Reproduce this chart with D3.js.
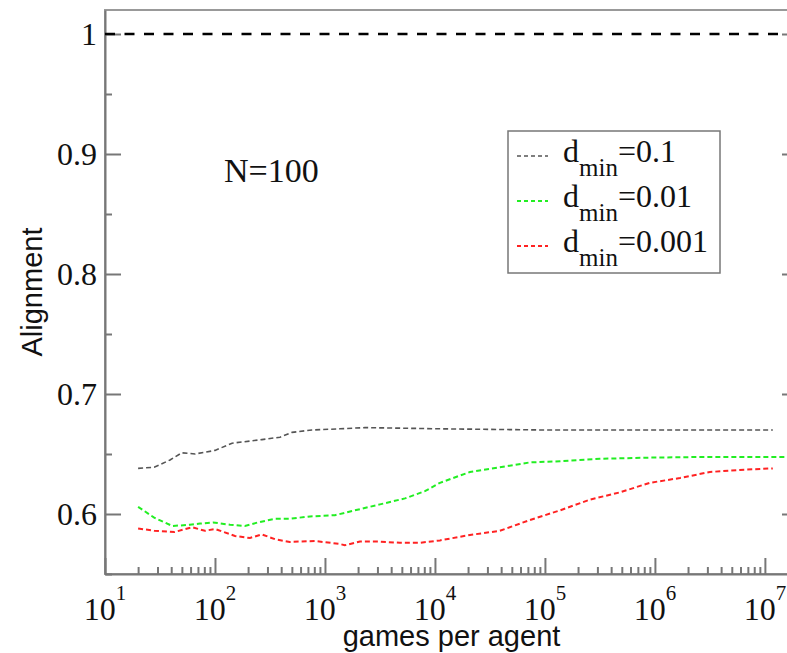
<!DOCTYPE html>
<html>
  <head>
    <title>Alignment vs games per agent</title>
    <script src="https://d3js.org/d3.v7.min.js"></script>
    <style>
      body { margin: 0; background: #fff; }
      .tick-label { font-family: "Liberation Serif", serif; font-size: 32px; fill: #111; }
      .axis-title { font-family: "Liberation Sans", sans-serif; font-size: 29px; fill: #111; }
      .axis path, .axis line { stroke: #777; stroke-width: 2; }
    </style>
  </head>
  <body>
    <svg width="787" height="653"></svg>
    <script>
      // games per agent (x) for each run
      const gamesHigh = [20, 28, 39, 50, 66, 100, 143, 267, 390, 501, 760, 1369, 2310, 11100, 1e5, 1.18e7];
      const alignHigh = [0.638, 0.639, 0.645, 0.651, 0.650, 0.653, 0.659, 0.662, 0.664, 0.668, 0.670, 0.671, 0.672, 0.671, 0.670, 0.670];

      const gamesMid = [20, 28, 41, 59, 73, 96, 137, 187, 246, 351, 479, 731, 1233, 1865, 3162, 5336, 8111, 11100, 20800, 38900, 73100, 1.37e5, 3.16e5, 9.0e5, 2.57e6, 1.58e7, 3e7];
      const alignMid = [0.606, 0.597, 0.590, 0.591, 0.592, 0.593, 0.591, 0.590, 0.593, 0.596, 0.596, 0.598, 0.599, 0.603, 0.608, 0.613, 0.619, 0.626, 0.635, 0.639, 0.643, 0.644, 0.646, 0.647, 0.6475, 0.6475, 0.6475];

      const gamesLow = [20, 28, 43, 62, 81, 100, 152, 208, 267, 351, 479, 811, 1369, 1515, 2081, 3162, 4790, 7310, 11100, 20800, 38900, 73100, 1.37e5, 2.57e5, 4.79e5, 9.0e5, 1.69e6, 3.16e6, 5.9e6, 1.18e7];
      const alignLow = [0.588, 0.586, 0.585, 0.589, 0.586, 0.5875, 0.5817, 0.580, 0.583, 0.579, 0.5767, 0.5775, 0.575, 0.574, 0.577, 0.577, 0.576, 0.576, 0.578, 0.5825, 0.586, 0.595, 0.603, 0.612, 0.618, 0.626, 0.630, 0.635, 0.6367, 0.638];

      const xMajor = [1e1, 1e2, 1e3, 1e4, 1e5, 1e6, 1e7];
      const xExponents = ["1", "2", "3", "4", "5", "6", "7"];
      const yMajor = [0.6, 0.7, 0.8, 0.9, 1.0];
      const yMinor = [0.55, 0.65, 0.75, 0.85, 0.95];

      const seriesNames = ["0.1", "0.01", "0.001"];
      const seriesColors = ["#555555", "#22ee22", "#ff2222"];

      function main() {
        const svg = d3.select("svg");
        const left = 105, right = 798, top = 10, bottom = 574;

        const x = d3.scaleLog().domain([10, 2e7]).range([left, right]);
        const y = d3.scaleLinear().domain([0.55, 1.02]).range([bottom, top]);

        svg.append("clipPath").attr("id", "plot")
          .append("rect").attr("x", left).attr("y", top)
          .attr("width", right - left).attr("height", bottom - top);

        // frame
        svg.append("rect")
          .attr("x", left).attr("y", top)
          .attr("width", right - left).attr("height", bottom - top)
          .attr("fill", "none").attr("stroke", "#999").attr("stroke-width", 2);

        // x minor ticks
        const xMinor = [];
        for (let e = 1; e <= 7; e++) {
          for (let k = 2; k <= 9; k++) {
            const v = k * Math.pow(10, e);
            if (v <= 2e7) xMinor.push(v);
          }
        }
        svg.append("g").attr("class", "axis")
          .attr("transform", `translate(0,${bottom})`)
          .call(d3.axisBottom(x).tickValues(xMinor).tickSize(-7).tickFormat(""))
          .select(".domain").remove();
        svg.append("g").attr("class", "axis")
          .attr("transform", `translate(0,${bottom})`)
          .call(d3.axisBottom(x).tickValues(xMajor).tickSize(-16).tickFormat("").tickSizeOuter(0));

        // y ticks left and right
        svg.append("g").attr("class", "axis")
          .attr("transform", `translate(${left},0)`)
          .call(d3.axisLeft(y).tickValues(yMinor).tickSize(-7).tickFormat(""))
          .select(".domain").remove();
        svg.append("g").attr("class", "axis")
          .attr("transform", `translate(${left},0)`)
          .call(d3.axisLeft(y).tickValues(yMajor).tickSize(-16).tickFormat("").tickSizeOuter(0));
        svg.append("g").attr("class", "axis")
          .attr("transform", `translate(${right},0)`)
          .call(d3.axisRight(y).tickValues(yMajor).tickSize(-16).tickFormat("").tickSizeOuter(0));

        // y tick labels
        svg.append("g").selectAll("text").data(yMajor).join("text")
          .attr("class", "tick-label")
          .attr("x", left - 8)
          .attr("y", d => y(d) + 11)
          .attr("text-anchor", "end")
          .text(d => d === 1 ? "1" : d3.format(".1f")(d));

        // x tick labels with superscripts
        const xl = svg.append("g").selectAll("text").data(xMajor).join("text")
          .attr("class", "tick-label")
          .attr("x", d => x(d))
          .attr("y", 620)
          .attr("text-anchor", "middle");
        xl.append("tspan").text("10");
        xl.append("tspan").attr("dy", -20).style("font-size", "21px")
          .text((d, i) => xExponents[i]);

        // axis titles
        svg.append("text").attr("class", "axis-title")
          .attr("x", (left + right) / 2).attr("y", 646)
          .attr("text-anchor", "middle").text("games per agent");
        svg.append("text").attr("class", "axis-title")
          .attr("transform", `translate(42,${(top + bottom) / 2}) rotate(-90)`)
          .attr("text-anchor", "middle").text("Alignment");

        const plot = svg.append("g").attr("clip-path", "url(#plot)");

        // reference line at 1
        plot.append("line")
          .attr("x1", left).attr("x2", right)
          .attr("y1", y(1)).attr("y2", y(1))
          .attr("stroke", "#000").attr("stroke-width", 2.5)
          .attr("stroke-dasharray", "10,9.5");

        const line = d3.line().x(d => x(d[0])).y(d => y(d[1]));
        const series = [
          d3.zip(gamesHigh, alignHigh),
          d3.zip(gamesMid, alignMid),
          d3.zip(gamesLow, alignLow)
        ];
        plot.selectAll("path.series").data(series).join("path")
          .attr("class", "series")
          .attr("d", line)
          .attr("fill", "none")
          .attr("stroke", (d, i) => seriesColors[i])
          .attr("stroke-width", (d, i) => i === 0 ? 1.6 : 2)
          .attr("stroke-dasharray", "5,3");

        // N label
        svg.append("text").attr("class", "tick-label")
          .attr("x", 224).attr("y", 182).style("font-size", "34px").text("N=100");

        // legend
        const lg = svg.append("g");
        lg.append("rect")
          .attr("x", 508).attr("y", 131).attr("width", 212).attr("height", 142)
          .attr("fill", "#fff").attr("stroke", "#777").attr("stroke-width", 1.5);
        const row = lg.selectAll("g.row").data(seriesNames).join("g")
          .attr("class", "row")
          .attr("transform", (d, i) => `translate(0,${162 + i * 45})`);
        row.append("line")
          .attr("x1", 517).attr("x2", 548).attr("y1", -6).attr("y2", -6)
          .attr("stroke", (d, i) => seriesColors[i])
          .attr("stroke-width", (d, i) => i === 0 ? 1.5 : 2)
          .attr("stroke-dasharray", "4,3");
        const lt = row.append("text").attr("class", "tick-label")
          .attr("x", 563).attr("y", 0).style("font-size", "32px");
        lt.append("tspan").text("d");
        lt.append("tspan").attr("dy", 14).style("font-size", "25px").text("min");
        lt.append("tspan").attr("dy", -14).text(d => "=" + d);
      }
      main();
    </script>
  </body>
</html>
